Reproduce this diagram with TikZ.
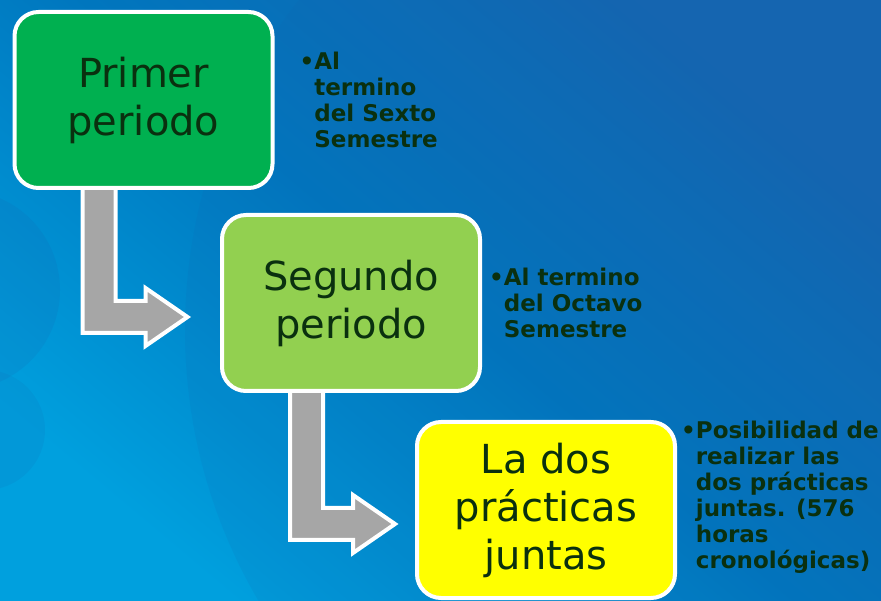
\documentclass[tikz,border=0pt]{standalone}
\usepackage{fontspec}
\setmainfont{DejaVu Sans}
\usetikzlibrary{positioning,calc}

\definecolor{fondooscuro}{HTML}{1565B0}
\definecolor{fondomedio}{HTML}{0076BE}
\definecolor{fondoclaro}{HTML}{00A0DE}
\definecolor{verde}{HTML}{00B050}
\definecolor{verdeclaro}{HTML}{92D050}
\definecolor{amarillo}{HTML}{FFFF00}
\definecolor{flecha}{HTML}{A6A6A6}
\definecolor{texto}{HTML}{0A300F}

\pgfdeclarelayer{fondo}
\pgfdeclarelayer{flechas}
\pgfsetlayers{fondo,flechas,main}

\tikzset{
  periodo/.style={draw=white, line width=4pt, rounded corners=24pt,
    minimum width=258pt, minimum height=176pt, align=center, text=texto,
    font=\fontsize{40}{48}\selectfont},
  nota/.style={align=left, text=texto, inner sep=0pt,
    font=\fontsize{23}{26}\selectfont\bfseries},
  codo/.style={fill=flecha, draw=white, line width=4pt}
}
\newcommand{\ind}{\hphantom{•}}
% bent arrow from the bottom of one box to the side of the next
\newcommand{\codo}[2]{%
  \draw[codo] let \p1=(#1.south west), \p2=(#2.west) in
    (\x1+70pt,\y1+4pt) -- (\x1+70pt,\y2-30pt) -- (\x1+133pt,\y2-30pt)
    -- (\x1+133pt,\y2-43pt) -- (\x1+175pt,\y2-14pt) -- (\x1+133pt,\y2+15pt)
    -- (\x1+133pt,\y2+2pt) -- (\x1+103pt,\y2+2pt) -- (\x1+103pt,\y1+4pt) -- cycle;}

\begin{document}
\begin{tikzpicture}[x=1pt,y=1pt]
  \useasboundingbox (0,0) rectangle (881,600);

  \begin{pgfonlayer}{fondo}
    \shade[top color=fondooscuro, bottom color=fondoclaro, middle color=fondomedio,
      shading angle=-40] (0,0) rectangle (881,600);
    \begin{scope}
      \clip (0,0) rectangle (881,600);
      \fill[fondooscuro, opacity=.12] (720,270) circle (535);
      \fill[fondooscuro, opacity=.15] (-40,310) circle (100);
      \fill[fondooscuro, opacity=.12] (-15,170) circle (60);
    \end{scope}
  \end{pgfonlayer}

  \node[periodo, fill=verde] (primer) at (143.5,500) {Primer\\periodo};
  \node[periodo, fill=verdeclaro] (segundo) at (351,297) {Segundo\\periodo};
  \node[periodo, fill=amarillo] (juntas) at (546,90) {La dos\\prácticas\\juntas};

  \node[nota, right=25pt of primer.east] (sexto)
    {•Al\\\ind termino\\\ind del Sexto\\\ind Semestre};
  \node[nota, right=7pt of segundo.east] (octavo)
    {•Al termino\\\ind del Octavo\\\ind Semestre};
  \node[nota, right=4pt of juntas.east, yshift=13pt] (horas)
    {•Posibilidad de\\\ind realizar las\\\ind dos prácticas\\\ind juntas. (576\\\ind horas\\\ind cronológicas)};

  \begin{pgfonlayer}{flechas}
    \codo{primer}{segundo}
    \codo{segundo}{juntas}
  \end{pgfonlayer}
\end{tikzpicture}
\end{document}
